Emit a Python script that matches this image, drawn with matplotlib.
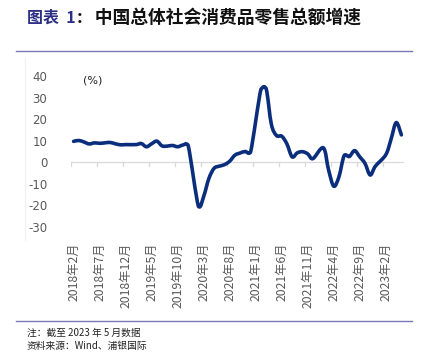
import matplotlib
matplotlib.use("Agg")
import matplotlib.pyplot as plt
from matplotlib.path import Path
from matplotlib.patches import PathPatch
from matplotlib.lines import Line2D
import numpy as np

plt.rcParams['font.family'] = ['Noto Sans CJK SC', 'DejaVu Sans']

# monthly retail sales yoy growth (%), 2018-02 .. 2023-05
# January figures are not published separately -> None (line joins across the gap)
start_year, start_month = 2018, 2
growth = [
    9.7, 10.1, 9.4, 8.5, 9.0, 8.8, 9.0, 9.2, 8.6, 8.1, 8.2,                 # 2018
    None, 8.2, 8.7, 7.2, 8.6, 9.8, 7.6, 7.5, 7.8, 7.2, 8.0, 8.0,            # 2019
    None, -20.5, -15.8, -7.5, -2.8, -1.8, -1.1, 0.5, 3.3, 4.3, 5.0, 4.6,    # 2020
    None, 33.8, 34.2, 17.7, 12.4, 12.1, 8.5, 2.5, 4.4, 4.9, 3.9, 1.7,       # 2021
    None, 6.7, -3.5, -11.1, -6.7, 3.1, 2.7, 5.4, 2.5, -0.5, -5.9, -1.8,     # 2022
    None, 3.5, 10.6, 18.4, 12.7,                                            # 2023
]

labels = []
for i in range(len(growth)):
    m = start_month - 1 + i
    labels.append(f"{start_year + m // 12}年{m % 12 + 1}月")

yticks = [-30, -20, -10, 0, 10, 20, 30, 40]
line_color = '#0B2E7C'
gray = '#595959'

fig = plt.figure(figsize=(4.26, 3.52), dpi=100)
ax = fig.add_axes([71 / 426, 1 - 227 / 352, 333 / 426, 151 / 352])

# smoothed line (excel style bezier), skipping the empty months
n = len(growth)
x = np.array([i for i in range(n) if growth[i] is not None], dtype=float)
y = np.array([v for v in growth if v is not None], dtype=float)
k = len(x)
verts = [(x[0], y[0])]
codes = [Path.MOVETO]
for i in range(k - 1):
    p0 = np.array([x[max(i - 1, 0)], y[max(i - 1, 0)]])
    p1 = np.array([x[i], y[i]])
    p2 = np.array([x[i + 1], y[i + 1]])
    p3 = np.array([x[min(i + 2, k - 1)], y[min(i + 2, k - 1)]])
    c1 = p1 + (p2 - p0) / 6
    c2 = p2 - (p3 - p1) / 6
    # keep overshoot small
    lo, hi = min(p1[1], p2[1]) - 1.2, max(p1[1], p2[1]) + 1.2
    c1[1] = np.clip(c1[1], lo, hi)
    c2[1] = np.clip(c2[1], lo, hi)
    verts += [tuple(c1), tuple(c2), tuple(p2)]
    codes += [Path.CURVE4] * 3
ax.add_patch(PathPatch(Path(verts, codes), fill=False, edgecolor=line_color,
                       lw=2.6, capstyle='round', joinstyle='round', zorder=3))

ax.axhline(0, color='#D9D9D9', lw=0.9, zorder=1)
for t in range(0, n + 1, 5):
    ax.plot([t - 0.5, t - 0.5], [0, -1.6], color='#D9D9D9', lw=0.9, zorder=1)

ax.set_xlim(-0.5, n - 0.5)
ax.set_ylim(-30, 40)
ax.set_yticks(yticks)
ax.set_yticklabels([str(v) for v in yticks], color=gray, fontsize=8.5,
                   family=['DejaVu Sans'])
ticks = list(range(0, n, 5))
ax.set_xticks(ticks)
ax.set_xticklabels([labels[i] for i in ticks], rotation=90, color=gray,
                   fontsize=8.8)
ax.tick_params(axis='both', length=0)
ax.tick_params(axis='x', pad=11)
ax.tick_params(axis='y', pad=17)
for s in ax.spines.values():
    s.set_visible(False)
ax.text(0.035, 0.97, '(%)', transform=ax.transAxes, fontsize=8,
        color='#222222', va='center', ha='left', family=['DejaVu Sans'])

# title
r = fig.canvas.get_renderer()
t1 = fig.text(27 / 426, 1 - 18 / 352, '图表  1', color='#2B2F86', fontsize=11.5,
              fontweight='bold', va='center', ha='left')
bb = t1.get_window_extent(r)
fig.text(bb.x1 / 426 + 0.003, 1 - 18 / 352, ':   中国总体社会消费品零售总额增速',
         color='#111111', fontsize=12.8, fontweight='bold', va='center', ha='left')

# rules and footer
fig.add_artist(Line2D([16 / 426, 412 / 426], [1 - 51 / 352, 1 - 51 / 352],
                      color='#7A78B8', lw=1.0))
fig.add_artist(Line2D([16 / 426, 412 / 426], [1 - 321 / 352, 1 - 321 / 352],
                      color='#7A78B8', lw=1.0))
fig.add_artist(Line2D([25 / 426, 25 / 426], [1 - 57 / 352, 1 - 240 / 352],
                      color='#F0F0F0', lw=0.8))
fig.text(27 / 426, 1 - 333 / 352, '注：截至 2023 年 5 月数据', fontsize=7,
         color='#222222', va='center', ha='left')
fig.text(27 / 426, 1 - 345.5 / 352, '资料来源：Wind、浦银国际', fontsize=7,
         color='#222222', va='center', ha='left')

fig.savefig('out.png', dpi=100)
